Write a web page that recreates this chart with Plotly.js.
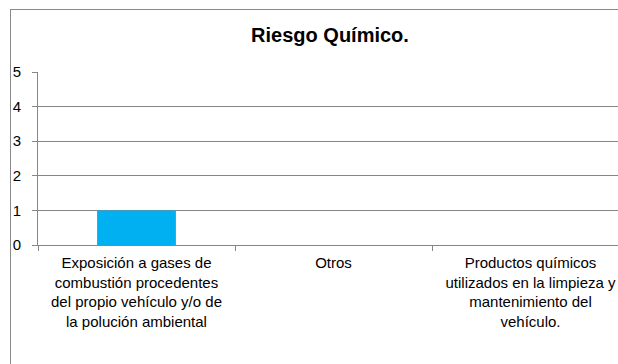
<!DOCTYPE html>
<html>
<head>
<meta charset="utf-8">
<script src="https://cdn.plot.ly/plotly-3.0.1.min.js"></script>
<style>
  html, body { margin: 0; padding: 0; overflow: hidden; background: #ffffff; }
  #frame { position: absolute; left: 10px; top: 9px; width: 700px; height: 420px;
           border-left: 1px solid #8a8a8a; border-top: 1px solid #8a8a8a; }
  #chart { position: absolute; left: 0; top: 0; width: 660px; height: 400px; }
</style>
</head>
<body>
<div id="frame"></div>
<div id="chart"></div>
<script>
// Riesgo Químico: one bar per risk category
const categories = [
    'Exposición a gases de<br>combustión procedentes<br>del propio vehículo y/o de<br>la polución ambiental',
    'Otros',
    'Productos químicos<br>utilizados en la limpieza y<br>mantenimiento del<br>vehículo.',
];
const values = [1, 0, 0];
const yTicks = [0, 1, 2, 3, 4, 5];

const gridGray = '#868686';

Plotly.newPlot('chart', [
    {
        x: categories,
        y: values,
        type: 'bar',
        width: 0.4,
        marker: { color: '#00b0f0' },
        hoverinfo: 'none',
    },
], {
    title: {
        text: '<b>Riesgo Químico.</b>',
        font: { family: 'Liberation Sans, Arial, sans-serif', size: 20, color: '#000000' },
        x: 0.5,
        y: 1 - 35 / 400,
        yanchor: 'middle',
    },
    xaxis: {
        type: 'category',
        tickson: 'boundaries',
        ticks: 'outside',
        ticklen: 5,
        tickcolor: gridGray,
        showline: true,
        linecolor: gridGray,
        showgrid: false,
        tickfont: { family: 'Liberation Sans, Arial, sans-serif', size: 15, color: '#000000' },
        tickangle: 0,
        ticklabelstandoff: 4,
        fixedrange: true,
    },
    yaxis: {
        range: [0, 5],
        tickvals: yTicks,
        ticks: 'outside',
        ticklen: 5,
        tickcolor: gridGray,
        showline: true,
        linecolor: gridGray,
        gridcolor: gridGray,
        zeroline: false,
        tickfont: { family: 'Liberation Sans, Arial, sans-serif', size: 15, color: '#000000' },
        ticklabelstandoff: 8,
        fixedrange: true,
    },
    showlegend: false,
    bargap: 0.6,
    margin: { t: 72, r: 31, l: 38, b: 155 },
    width: 660,
    height: 400,
    paper_bgcolor: 'rgba(0,0,0,0)',
    plot_bgcolor: '#ffffff',
}, { displayModeBar: false, staticPlot: true });
</script>
</body>
</html>
